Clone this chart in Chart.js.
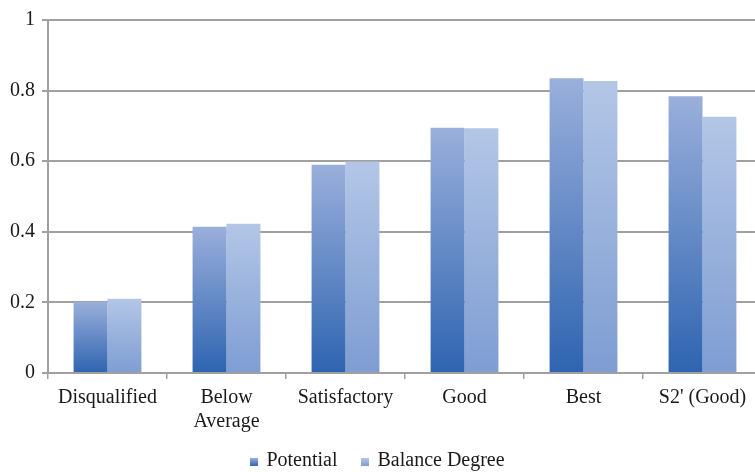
<!DOCTYPE html>
<html>
<head>
<meta charset="utf-8">
<title>Potential and Balance Degree</title>
<script src="https://cdn.jsdelivr.net/npm/chart.js@4.4.0/dist/chart.umd.min.js"></script>
<style>
    html, body { margin: 0; padding: 0; background: #ffffff; overflow: hidden; }
    .quadro { position: relative; width: 755px; height: 472px; overflow: hidden; }
    #grafico { display: block; position: absolute; left: 0; top: 0; }
    .custom-legend {
        position: absolute; left: 0; top: 446px; width: 755px;
        margin: 0; padding: 0; list-style: none; text-align: center;
        font-family: 'Liberation Serif', 'Times New Roman', serif;
        font-size: 20px; line-height: 26px; color: #1a1a1a;
    }
    .custom-legend li { display: inline-block; margin: 0 12px; }
    .legend-color { display: inline-block; width: 8px; height: 8px; margin-right: 8px; vertical-align: 0; }
</style>
</head>
<body>
<div class="quadro">
    <canvas id="grafico" width="762" height="472"></canvas>
    <ul class="custom-legend"></ul>
</div>
<script>
const categorias = ['Disqualified', ['Below', 'Average'], 'Satisfactory', 'Good', 'Best', "S2' (Good)"];
const potencial = [0.202, 0.414, 0.590, 0.695, 0.835, 0.784];
const equilibrio = [0.210, 0.423, 0.599, 0.693, 0.827, 0.726];
const nomesSeries = ['Potential', 'Balance Degree'];
const ticksY = [0, 0.2, 0.4, 0.6, 0.8, 1];

// cores do degradê de cada série: base (escura) e topo (clara)
const coresBase = ['#2e64b0', '#7e9dd2'];
const coresTopo = ['#9aafdb', '#b3c6e6'];

// Degradê vertical de cada barra: escuro embaixo, claro no topo
function degradeBarra(context, i) {
    const chart = context.chart;
    if (!chart.chartArea || context.raw === undefined) return coresTopo[i];
    const escala = chart.scales.y;
    const y0 = escala.getPixelForValue(0);
    const y1 = escala.getPixelForValue(context.raw);
    const g = chart.ctx.createLinearGradient(0, y0, 0, y1);
    g.addColorStop(0, coresBase[i]);
    g.addColorStop(1, coresTopo[i]);
    return g;
}

document.addEventListener('DOMContentLoaded', function() {
    const canvas = document.getElementById('grafico');
    const ctx = canvas.getContext('2d');

    Chart.defaults.font.family = "'Liberation Serif', 'Times New Roman', serif";
    Chart.defaults.font.size = 20;
    Chart.defaults.color = '#1a1a1a';

    const data = {
        labels: categorias,
        datasets: [{
            label: nomesSeries[0],
            data: potencial,
            backgroundColor: c => degradeBarra(c, 0),
            borderWidth: 0
        }, {
            label: nomesSeries[1],
            data: equilibrio,
            backgroundColor: c => degradeBarra(c, 1),
            borderWidth: 0
        }]
    };

    const options = {
        responsive: false,
        animation: false,
        layout: { padding: { top: 20, left: 0, right: 0, bottom: 0 } },
        datasets: {
            bar: { categoryPercentage: 0.57, barPercentage: 1 }
        },
        scales: {
            x: {
                grid: {
                    display: true,
                    drawOnChartArea: false,
                    offset: true,
                    color: '#a0a0a0',
                    lineWidth: 1.5,
                    tickLength: 6
                },
                border: { color: '#a0a0a0', width: 2 },
                ticks: { padding: 7, maxRotation: 0, autoSkip: false },
                afterFit: function(scale) { scale.height = 99; }
            },
            y: {
                min: 0,
                max: 1,
                afterBuildTicks: function(scale) {
                    scale.ticks = ticksY.map(v => ({ value: v }));
                },
                grid: {
                    color: '#a0a0a0',
                    lineWidth: 2,
                    tickLength: 6
                },
                border: { color: '#a0a0a0', width: 2 },
                ticks: {
                    padding: 7,
                    callback: v => String(Math.round(v * 10) / 10)
                },
                afterFit: function(scale) { scale.width = 48; }
            }
        },
        plugins: {
            legend: { display: false },
            tooltip: { enabled: false }
        }
    };

    new Chart(ctx, {
        type: 'bar',
        data: data,
        options: options
    });

    // Legenda personalizada abaixo do gráfico
    const legendContainer = document.querySelector('.custom-legend');
    legendContainer.innerHTML = createLegendHTML(nomesSeries, coresBase, coresTopo);
});

function createLegendHTML(labels, bases, topos) {
    let legendHTML = '';
    for (let i = 0; i < labels.length; i++) {
        legendHTML += `<li><span class="legend-color" style="background: linear-gradient(to top, ${bases[i]}, ${topos[i]})"></span>${labels[i]}</li>`;
    }
    return legendHTML;
}
</script>
</body>
</html>
